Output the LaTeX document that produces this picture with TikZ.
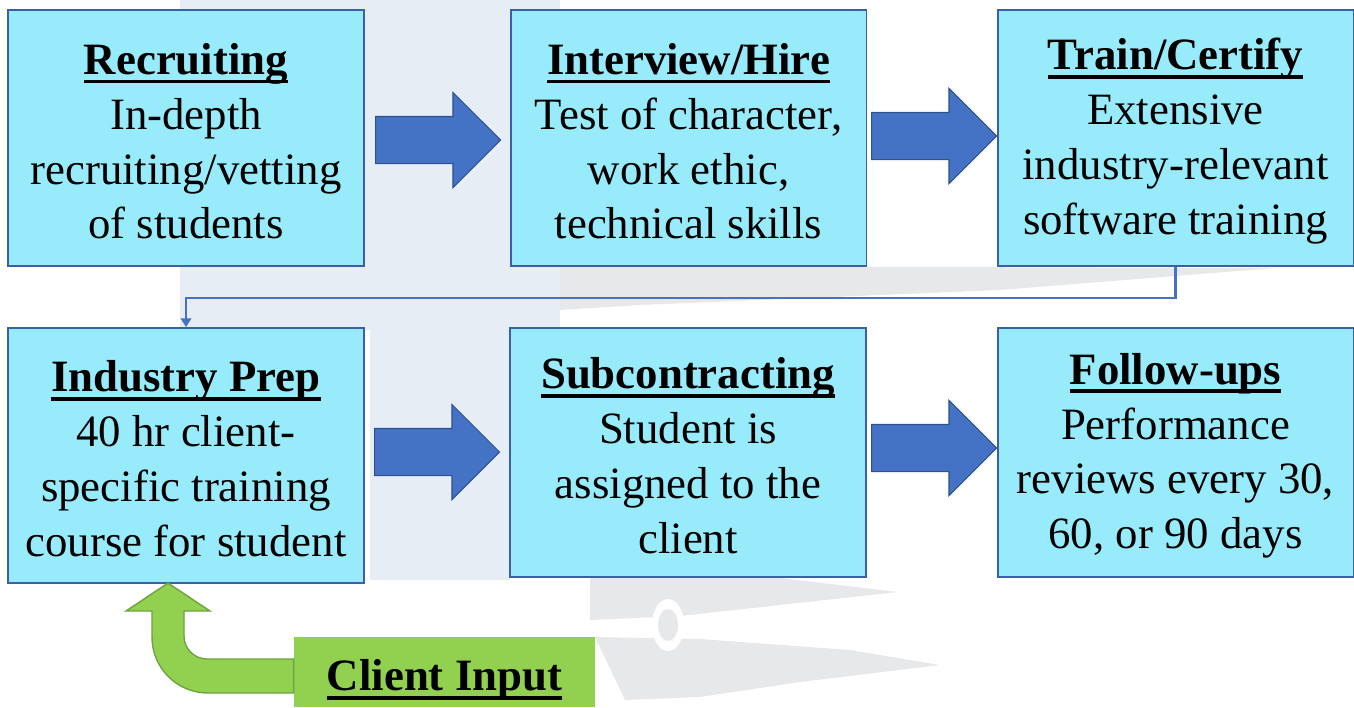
\documentclass[tikz,border=0pt]{standalone}
\usepackage{fontspec}
\setmainfont{Liberation Serif}
\usetikzlibrary{shapes.arrows,arrows.meta}

\definecolor{boxfill}{HTML}{97EBFB}
\definecolor{boxline}{HTML}{3B5FA8}
\definecolor{arrowfill}{HTML}{4472C4}
\definecolor{arrowline}{HTML}{2F528F}
\definecolor{inputfill}{HTML}{92D050}
\definecolor{inputline}{HTML}{6FA33F}
\definecolor{markblue}{HTML}{E6EDF4}
\definecolor{markgray}{HTML}{E7E8E9}

% bold title with a thick underline through the descenders
\newcommand{\headline}[1]{\setbox0\hbox{\bfseries #1}\rlap{\rule[-0.2em]{\wd0}{0.085em}}\box0}

\tikzstyle{stage} = [rectangle,draw=boxline,line width=1.1pt,fill=boxfill,minimum width=7.12cm,
  align=center,inner sep=0pt,font=\fontsize{25.5}{31.2}\selectfont]
\tikzstyle{blockarrow} = [single arrow,draw=arrowline,line width=0.6pt,fill=arrowfill,minimum height=2.5cm,
  single arrow head extend=0.48cm,single arrow tip angle=90,inner xsep=0pt,inner ysep=0.46cm,anchor=tail]
\tikzstyle{flow} = [draw=arrowfill,line width=1.2pt,-{Triangle[width=6pt,length=5pt]}]
\tikzstyle{inputbox} = [rectangle,fill=inputfill,minimum width=6.02cm,minimum height=1.4cm,
  inner sep=0pt,font=\fontsize{25.5}{31.2}\selectfont]

\begin{document}
\begin{tikzpicture}[x=0.02cm,y=-0.02cm]
  \useasboundingbox (0,0) rectangle (1354,707);
  %watermark
  \fill[markblue] (180,0) rectangle (560,330);
  \fill[markblue] (370,330) rectangle (510,580);
  \fill[markgray] (560,266) -- (1275,268) -- (1000,290) -- (640,305) -- (560,310) -- cycle;
  \fill[markgray] (590,577) -- (780,578) -- (898,592) -- (680,616) -- (590,620) -- cycle;
  \fill[markgray] (595,637) -- (700,639) -- (850,650) -- (940,665) -- (800,682) -- (700,697) -- (625,700) -- cycle;
  \fill[white] (668,625) ellipse (16 and 26);
  \fill[markgray] (668,625) ellipse (10 and 16);

  %stages
  \foreach \name/\x/\y/\h/\title/\body in {
    rec/186/138/5.12/Recruiting/{In-depth\\recruiting/vetting\\of students},
    int/688.5/138/5.12/{Interview/Hire}/{Test of character,\\work ethic,\\technical skills},
    tra/1175.5/138/5.12/{Train/Certify}/{Extensive\\industry-relevant\\software training},
    ind/186/455.5/5.1/Industry Prep/{40 hr client-\\specific training\\course for student},
    sub/688/452.5/4.98/Subcontracting/{Student is\\assigned to the\\client},
    fol/1175.5/452.5/4.98/Follow-ups/{Performance\\reviews every 30,\\60, or 90 days}}
  {
    \node[stage,minimum height=\h cm] (\name) at (\x,\y) {\rule{0pt}{0.84em}\headline{\title}\\\body};
  };

  %block arrows
  \foreach \name/\x/\y in {ar1/375/140, ar2/871/136, ar3/374/452, ar4/871/448}
  {
    \node[blockarrow] (\name) at (\x,\y) {};
  };

  %connector
  \draw[flow] (tra.south) -- ++(0,31) -| (ind.north);

  %client input
  \node[inputbox] (cin) at (444.5,672) {\raisebox{-4.5pt}[\height][\depth]{\headline{Client Input}}};
  \fill[inputfill,draw=inputline,line width=0.8pt] (168,583) -- (210,611) -- (184,611) -- (184,636)
    .. controls (184,648.7) and (194.3,659) .. (207,659) -- (cin.west |- 0,659)
    -- (cin.west |- 0,693) -- (208,693) .. controls (177,693) and (152,668) .. (152,637)
    -- (152,611) -- (126,611) -- cycle;
\end{tikzpicture}
\end{document}
